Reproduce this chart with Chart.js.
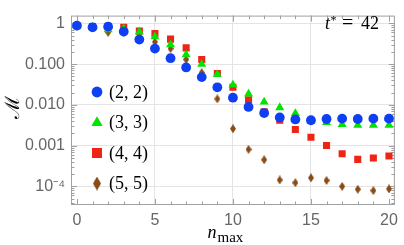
<!DOCTYPE html>
<html>
<head>
<meta charset="utf-8">
<script src="https://cdn.jsdelivr.net/npm/chart.js@4.4.0/dist/chart.umd.min.js"></script>
<style>
  html, body { margin: 0; padding: 0; background: #fff; }
  #wrap { width: 404px; height: 245px; }
</style>
</head>
<body>
<div id="wrap"><canvas id="chart" width="404" height="245"></canvas></div>
<script>
// n_max values on the x axis
const nmax = [0, 1, 2, 3, 4, 5, 6, 7, 8, 9, 10, 11, 12, 13, 14, 15, 16, 17, 18, 19, 20];

// M values, one array per (l, l) truncation
const m22 = [0.88, 0.80, 0.83, 0.63, 0.40, 0.24, 0.14, 0.083, 0.048, 0.027, 0.015, 0.0089, 0.0063, 0.0049, 0.0044, 0.0042, 0.0045, 0.0046, 0.0045, 0.0046, 0.0046];
const m33 = [0.86, 0.80, 0.70, 0.74, 0.62, 0.47, 0.30, 0.17, 0.10, 0.056, 0.031, 0.0185, 0.0118, 0.0086, 0.0062, 0.0040, 0.0037, 0.0033, 0.0032, 0.0032, 0.0032];
const m44 = [0.88, 0.84, 0.85, 0.80, 0.65, 0.56, 0.41, 0.25, 0.13, 0.059, 0.027, 0.0134, 0.0068, 0.0042, 0.0025, 0.0016, 0.00101, 0.00063, 0.00046, 0.00050, 0.00056];
const m55 = [0.85, 0.78, 0.60, 0.60, 0.56, 0.35, 0.24, 0.13, 0.062, 0.014, 0.0026, 0.00081, 0.00045, 0.000144, 0.000123, 0.000162, 0.00014, 0.000100, 0.000085, 0.000079, 0.000087];

const seriesLabels = ['(2, 2)', '(3, 3)', '(4, 4)', '(5, 5)'];
const xTicks = [0, 5, 10, 15, 20];
const yTicks = [1e-4, 1e-3, 1e-2, 1e-1, 1];
const yTickLabels = ['10\u207B\u2074', '0.001', '0.010', '0.100', '1'];

const BLUE = '#0f3ff2';
const GREEN = '#00e400';
const RED = '#ee2414';
const BROWN = '#8a4b16';

function diamond(w, h, color) {
  const c = document.createElement('canvas');
  c.width = w; c.height = h;
  const g = c.getContext('2d');
  g.fillStyle = color;
  g.beginPath();
  g.moveTo(w / 2, 0); g.lineTo(w, h / 2); g.lineTo(w / 2, h); g.lineTo(0, h / 2);
  g.closePath();
  g.fill();
  return c;
}

const toPoints = ys => nmax.map((n, i) => ({ x: n, y: ys[i] }));

const serif = '"Liberation Serif", "DejaVu Serif", serif';

// frame, inner tick marks, legend and labels
const decor = {
  id: 'decor',
  beforeDatasetsDraw(chart) {
    const { ctx, chartArea: a, scales } = chart;
    ctx.save();
    ctx.strokeStyle = '#a0a0a0';
    ctx.lineWidth = 1;
    ctx.strokeRect(a.left + 0.5, a.top + 0.5, a.right - a.left - 1, a.bottom - a.top - 1);
    ctx.beginPath();
    for (let n = 0; n <= 20; n++) {
      const x = Math.round(scales.x.getPixelForValue(n)) + 0.5;
      const len = n % 5 === 0 ? 6 : 3.5;
      ctx.moveTo(x, a.bottom); ctx.lineTo(x, a.bottom - len);
      ctx.moveTo(x, a.top); ctx.lineTo(x, a.top + len);
    }
    for (let d = -5; d <= 0; d++) {
      for (let k = 1; k <= 9; k++) {
        const v = k * Math.pow(10, d);
        if (v < scales.y.min || v > scales.y.max) continue;
        const y = Math.round(scales.y.getPixelForValue(v)) + 0.5;
        const len = k === 1 ? 6 : 3.5;
        ctx.moveTo(a.left, y); ctx.lineTo(a.left + len, y);
        ctx.moveTo(a.right, y); ctx.lineTo(a.right - len, y);
      }
    }
    ctx.stroke();
    ctx.restore();
  },
  afterDraw(chart) {
    const { ctx } = chart;
    ctx.save();
    // legend
    const lx = 97, rows = [92, 122.5, 153, 183.5];
    ctx.fillStyle = BLUE;
    ctx.beginPath(); ctx.arc(lx, rows[0], 5.4, 0, Math.PI * 2); ctx.fill();
    ctx.fillStyle = GREEN;
    ctx.beginPath();
    ctx.moveTo(lx, rows[1] - 6.3); ctx.lineTo(lx + 5.6, rows[1] + 3.4); ctx.lineTo(lx - 5.6, rows[1] + 3.4);
    ctx.closePath(); ctx.fill();
    ctx.fillStyle = RED;
    ctx.fillRect(lx - 5, rows[2] - 5, 10, 10);
    ctx.drawImage(diamond(8, 14, BROWN), lx - 4, rows[3] - 7);
    ctx.fillStyle = '#000';
    ctx.font = '18px ' + serif;
    ctx.textBaseline = 'alphabetic';
    seriesLabels.forEach((s, i) => ctx.fillText(s, 109, rows[i] + 5.5));

    // t* = 42
    ctx.font = 'italic 18px ' + serif;
    ctx.fillText('t', 325, 28.5);
    ctx.font = '12px ' + serif;
    ctx.fillText('*', 330.5, 24);
    ctx.font = '20px ' + serif;
    ctx.fillText('=', 342, 29);
    ctx.font = '18px ' + serif;
    ctx.fillText('42', 361, 28.5);

    // x title n_max
    ctx.font = 'italic 18px ' + serif;
    ctx.fillText('n', 207.5, 238);
    ctx.font = '15px ' + serif;
    ctx.fillText('max', 217.5, 241.5);

    // y title
    ctx.translate(14, 107);
    ctx.rotate(-Math.PI / 2);
    ctx.textAlign = 'center';
    ctx.textBaseline = 'middle';
    ctx.font = '20px "DejaVu Serif", serif';
    ctx.fillText('\u2133', 0, 0);
    ctx.restore();
  }
};

new Chart(document.getElementById('chart'), {
  type: 'scatter',
  data: {
    datasets: [
      { label: seriesLabels[0], data: toPoints(m22), backgroundColor: BLUE, borderWidth: 0, pointStyle: 'circle', pointRadius: 4.9 },
      { label: seriesLabels[1], data: toPoints(m33), backgroundColor: GREEN, borderWidth: 0, pointStyle: 'triangle', pointRadius: 5.2 },
      { label: seriesLabels[2], data: toPoints(m44), backgroundColor: RED, borderWidth: 0, pointStyle: 'rect', pointRadius: 5 },
      { label: seriesLabels[3], data: toPoints(m55), backgroundColor: BROWN, borderWidth: 0, pointStyle: diamond(6, 9, BROWN), pointRadius: 4 }
    ]
  },
  options: {
    responsive: false,
    animation: false,
    layout: { padding: { left: 0, right: 8, top: 4, bottom: 0 } },
    plugins: { legend: { display: false }, tooltip: { enabled: false } },
    scales: {
      x: {
        type: 'linear',
        min: -0.38,
        max: 20.38,
        afterBuildTicks: s => { s.ticks = xTicks.map(v => ({ value: v })); },
        afterFit: s => { s.height = 40; },
        border: { display: false },
        grid: {
          drawTicks: false,
          color: c => (c.tick && c.tick.value > 0 && c.tick.value < 20) ? '#e4e4e4' : 'rgba(0,0,0,0)'
        },
        ticks: {
          autoSkip: false,
          maxRotation: 0,
          padding: 6,
          color: '#666',
          font: { family: '"Liberation Sans", Arial, sans-serif', size: 16 }
        }
      },
      y: {
        type: 'logarithmic',
        min: 3.5e-5,
        max: 1.55,
        afterBuildTicks: s => { s.ticks = yTicks.map(v => ({ value: v, major: true })); },
        afterFit: s => { s.width = 71; },
        border: { display: false },
        grid: { drawTicks: false, color: '#e4e4e4' },
        ticks: {
          autoSkip: false,
          padding: 6,
          color: '#666',
          font: { family: '"Liberation Sans", Arial, sans-serif', size: 16 },
          callback: (v, i) => yTickLabels[i]
        }
      }
    }
  },
  plugins: [decor]
});
</script>
</body>
</html>
